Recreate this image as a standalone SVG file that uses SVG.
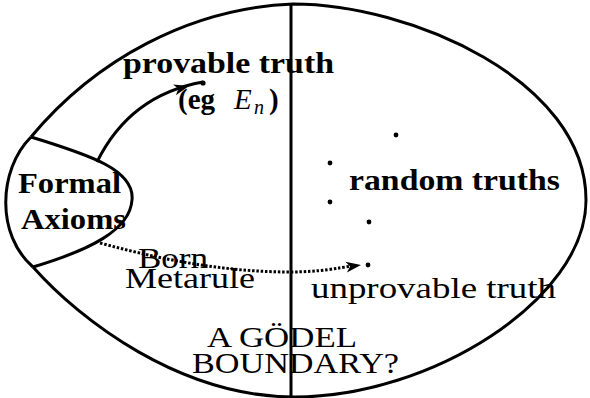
<svg xmlns="http://www.w3.org/2000/svg" width="590" height="398" viewBox="0 0 590 398">
<style>
.ln{fill:none;stroke:#000;stroke-width:3;stroke-linejoin:round}
.t{font-family:"Liberation Serif","DejaVu Serif",serif;font-size:29px;fill:#000}
.b{font-weight:bold}
.dot{fill:#000}
.ah{fill:#000}
</style>
<defs>
<path id="head" d="M0,0 L-15,-5.5 L-11,0 L-15,5.5 Z"/>
</defs>
<rect width="590" height="398" fill="#fff"/>
<g id="outline">
<path class="ln" d="M31,137 C95,60 190,8 293,4 C410,4 586,80 586,200 C586,300 430,397 295,397 C180,397 80,320 33,267"/>
<path class="ln" d="M291,4 L291,398"/>
</g>
<g id="formal-axioms">
<path class="ln" d="M31,137 C-2,170 -4,235 33,267"/>
<path class="ln" d="M31,137 C90,155 135,170 132,200 C130,230 90,250 33,267"/>
<text class="t b" x="18" y="193" textLength="103" lengthAdjust="spacingAndGlyphs">Formal</text>
<text class="t b" x="21" y="229" textLength="105" lengthAdjust="spacingAndGlyphs">Axioms</text>
</g>
<g id="provable-truth">
<circle class="dot" cx="203" cy="83" r="2.6"/>
<text class="t b" x="123" y="73" textLength="211" lengthAdjust="spacingAndGlyphs">provable truth</text>
<text class="t" y="109"><tspan class="b" x="178">(eg</tspan><tspan x="234" font-style="italic">E</tspan><tspan x="254" y="114" font-size="20" font-style="italic">n</tspan><tspan class="b" x="269" y="109">)</tspan></text>
</g>
<g id="random-truths">
<circle class="dot" cx="396" cy="135" r="2.4"/>
<circle class="dot" cx="330" cy="163" r="2.4"/>
<circle class="dot" cx="330" cy="202" r="2.4"/>
<circle class="dot" cx="369" cy="222" r="2.4"/>
<text class="t b" x="349" y="190" textLength="211" lengthAdjust="spacingAndGlyphs">random truths</text>
</g>
<g id="unprovable-truth">
<circle class="dot" cx="368" cy="265" r="2.4"/>
<text class="t" x="311" y="298" textLength="245" lengthAdjust="spacingAndGlyphs">unprovable truth</text>
</g>
<g id="godel-boundary">
<text class="t" x="207" y="347" textLength="150" lengthAdjust="spacingAndGlyphs">A GÖDEL</text>
<text class="t" x="192" y="373" textLength="207" lengthAdjust="spacingAndGlyphs">BOUNDARY?</text>
</g>
<g id="connectors">
<path class="ln" d="M97,162 Q130,95 203,82"/>
<use href="#head" class="ah" transform="translate(189,86) rotate(-15)"/>
<path class="ln" d="M100,243 C170,262 230,272 290,272 C320,272 338,268 352,266" stroke-width="2.6" stroke-dasharray="2.5 1.8"/>
<use href="#head" class="ah" transform="translate(361,265) rotate(-8)"/>
<text class="t" x="138" y="268" textLength="70" lengthAdjust="spacingAndGlyphs">Born</text>
<text class="t" x="125" y="288" textLength="130" lengthAdjust="spacingAndGlyphs">Metarule</text>
</g>
</svg>
